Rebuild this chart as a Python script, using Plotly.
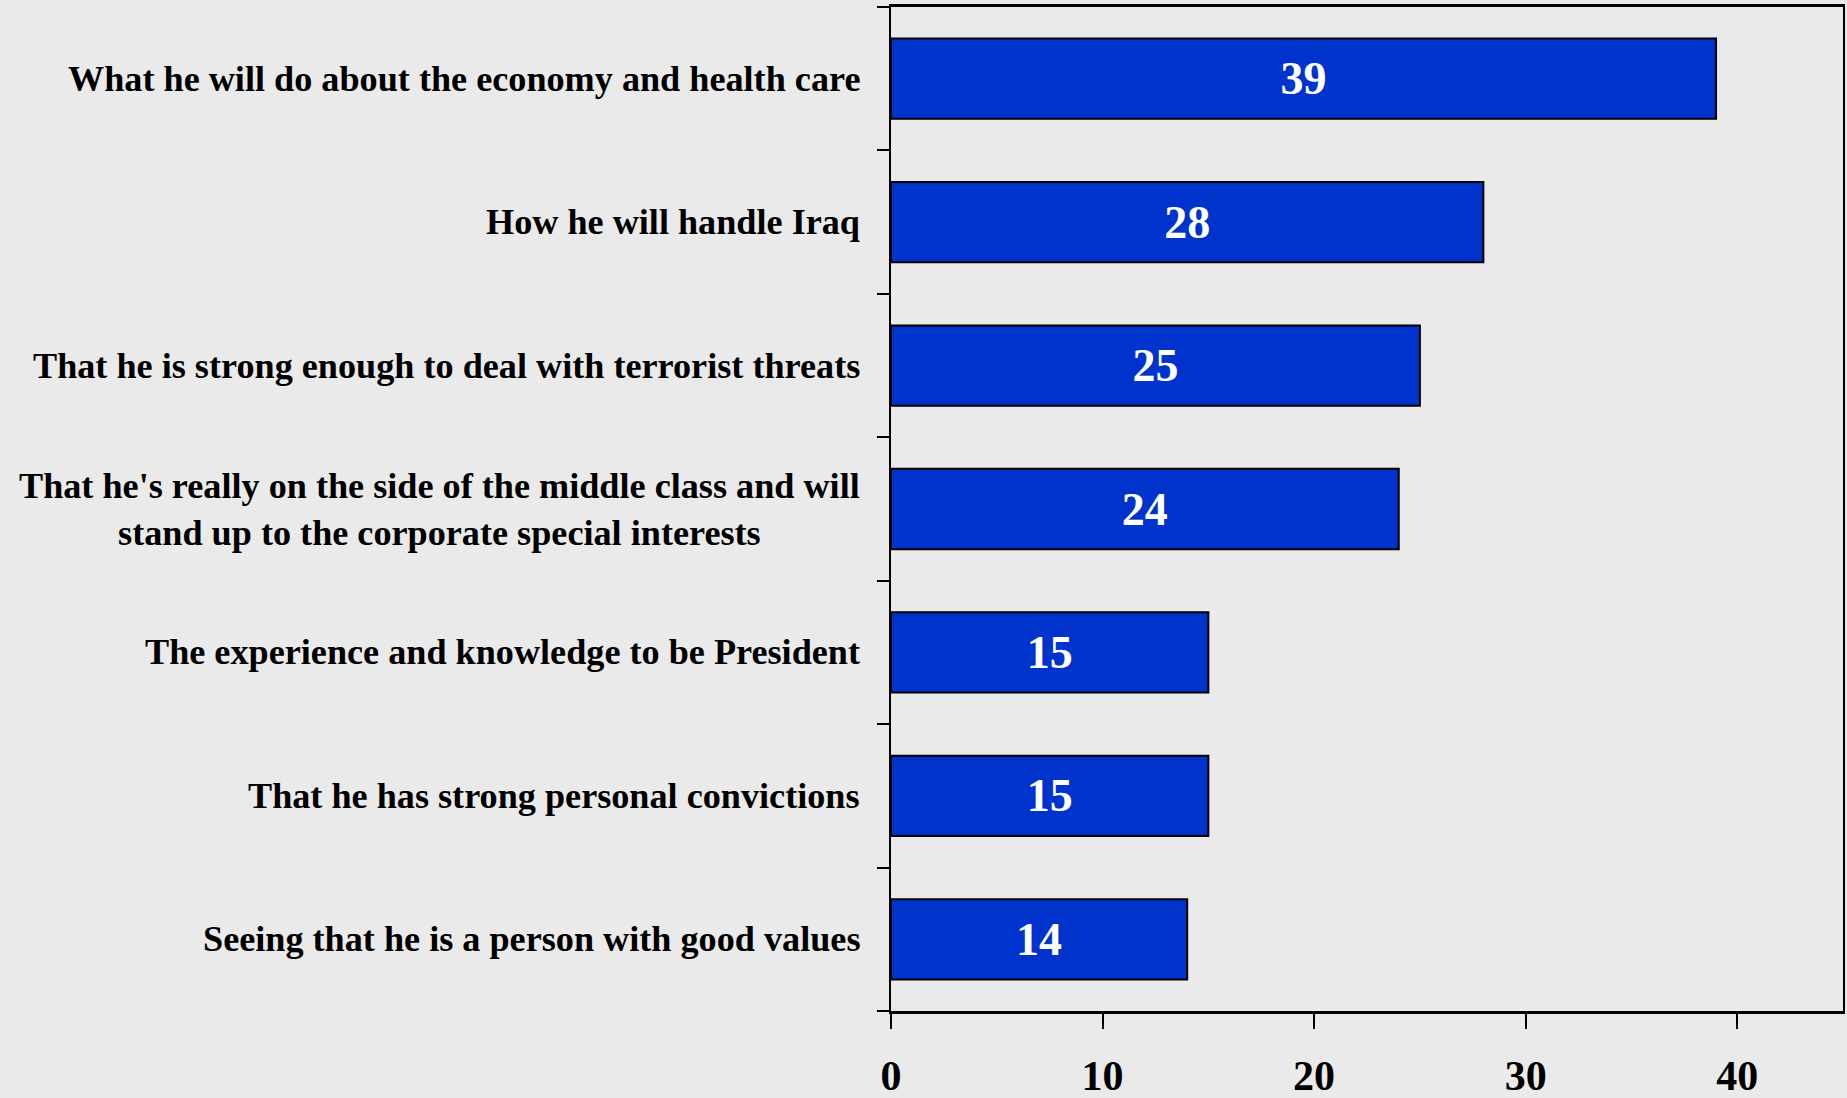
import plotly.graph_objects as go

categories = [
    "What he will do about the economy and health care",
    "How he will handle Iraq",
    "That he is strong enough to deal with terrorist threats",
    "That he's really on the side of the middle class and will<br>stand up to the corporate special interests",
    "The experience and knowledge to be President",
    "That he has strong personal convictions",
    "Seeing that he is a person with good values",
]
values = [39, 28, 25, 24, 15, 15, 14]
x_ticks = [0, 10, 20, 30, 40]

BG = "#EAEAEA"
BAR = "#0033CC"
FONT = "Liberation Serif, Times New Roman, serif"

fig = go.Figure()
fig.add_trace(go.Bar(
    x=values,
    y=list(range(len(categories))),
    orientation="h",
    marker=dict(color=BAR, line=dict(color="black", width=2)),
    width=0.56,
    text=[str(v) for v in values],
    textposition="inside",
    insidetextanchor="middle",
    textfont=dict(family=FONT, size=46, color="white", weight="bold"),
    cliponaxis=False,
))

annotations = []
for i, c in enumerate(categories):
    annotations.append(dict(
        x=0, xref="paper", xshift=-29, xanchor="right",
        y=i, yref="y", yanchor="middle",
        text="<b>" + c + "</b>", showarrow=False, align="center",
        font=dict(family=FONT, size=36.2, color="black"),
    ))

fig.update_layout(
    width=1847, height=1098,
    paper_bgcolor=BG, plot_bgcolor=BG,
    margin=dict(l=891, r=4, t=7, b=87, autoexpand=False),
    showlegend=False,
    bargap=0.44,
    annotations=annotations,
)
fig.update_xaxes(
    range=[0, 45], tickvals=x_ticks, ticktext=[f"<b>{t}</b>" for t in x_ticks],
    ticks="outside", ticklen=15, tickwidth=2, tickcolor="black",
    showline=True, linecolor="black", linewidth=3, mirror=True,
    showgrid=False, zeroline=False, automargin=False,
    tickfont=dict(family=FONT, size=42, color="black"),
    ticklabelstandoff=11,
)
fig.update_yaxes(
    type="linear", range=[len(categories) - 0.5, -0.5],
    tickvals=[i - 0.5 for i in range(len(categories) + 1)],
    ticktext=["" for _ in range(len(categories) + 1)],
    ticks="outside", ticklen=12, tickwidth=2, tickcolor="black",
    showline=True, linecolor="black", linewidth=2, mirror=True,
    showgrid=False, zeroline=False, automargin=False,
)

fig.write_html(
    "out.html",
    config={"displayModeBar": False},
    post_script="document.body.style.margin='0';document.body.style.background='#EAEAEA';document.body.style.overflow='hidden';",
)
